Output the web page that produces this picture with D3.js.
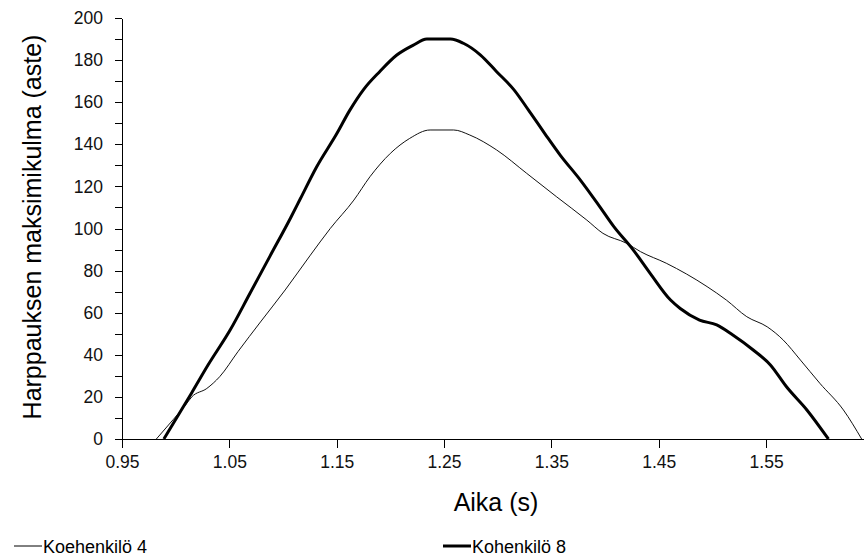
<!DOCTYPE html>
<html>
<head>
    <title>Harppauksen maksimikulma</title>
    <script src="https://cdnjs.cloudflare.com/ajax/libs/d3/7.8.5/d3.min.js"></script>
    <style>
        body {
            margin: 0;
            background: white;
            font-family: "Liberation Sans", Arial, sans-serif;
        }
        .axis path, .axis line {
            stroke: black;
            stroke-width: 1px;
            shape-rendering: crispEdges;
        }
        .axis text {
            font-family: "Liberation Sans", Arial, sans-serif;
            font-size: 17.5px;
            fill: #111;
        }
    </style>
</head>
<body>
    <div id="chart"></div>

    <script>
        // Data
        const xTicks = [0.95, 1.05, 1.15, 1.25, 1.35, 1.45, 1.55];
        const yTicks = d3.range(0, 201, 10);

        // Koehenkilö 4 (thin line)
        const s4Time = [0.982, 0.998, 1.009, 1.015, 1.029, 1.041, 1.058, 1.079, 1.102, 1.125,
            1.144, 1.166, 1.181, 1.200, 1.218, 1.237, 1.259, 1.274, 1.299, 1.327,
            1.355, 1.383, 1.398, 1.420, 1.433, 1.457, 1.495, 1.513, 1.532, 1.551,
            1.566, 1.582, 1.600, 1.622, 1.639];
        const s4Angle = [0, 9.4, 16, 20, 24, 29.6, 41.5, 55.6, 70.8, 87,
            100, 113.5, 124.6, 135.7, 142.8, 146.8, 146.8, 144.4, 137.3, 126.2,
            115, 104, 97.7, 93, 89, 83.5, 72.4, 66, 58.1, 53.3,
            47, 37.5, 26.5, 13.8, 0];

        // Kohenkilö 8 (thick line)
        const s8Time = [0.989, 1.015, 1.030, 1.051, 1.069, 1.088, 1.107, 1.116, 1.131, 1.150,
            1.162, 1.175, 1.190, 1.206, 1.221, 1.234, 1.256, 1.268, 1.284, 1.299,
            1.315, 1.329, 1.344, 1.358, 1.377, 1.395, 1.408, 1.426, 1.442, 1.461,
            1.470, 1.488, 1.504, 1.519, 1.538, 1.554, 1.569, 1.588, 1.608];
        const s8Angle = [0, 22, 35, 52, 69, 87, 105, 114, 129, 145,
            156, 166, 174.5, 182.4, 187, 190, 190, 188, 182.4, 174.5,
            166, 156, 145, 135, 123, 110.4, 101, 90, 78.7, 66,
            62, 56.5, 54.2, 49.4, 42.3, 35.2, 24.8, 13.8, 0];

        const seriesNames = ["Koehenkilö 4", "Kohenkilö 8"];

        const width = 864;
        const height = 557;
        const margin = { top: 18, right: 0, bottom: 118, left: 122 };

        const svg = d3.select("#chart")
            .append("svg")
            .attr("width", width)
            .attr("height", height);

        const x = d3.scaleLinear()
            .domain([0.95, 1.65])
            .range([margin.left, margin.left + 0.7 * 1073.5]);

        const y = d3.scaleLinear()
            .domain([0, 200])
            .range([height - margin.bottom, margin.top]);

        // Axes
        svg.append("g")
            .attr("class", "axis")
            .attr("transform", `translate(0,${height - margin.bottom})`)
            .call(d3.axisBottom(x)
                .tickValues(xTicks)
                .tickFormat(d3.format(".2f"))
                .tickSize(9)
                .tickSizeOuter(0)
                .tickPadding(8))
            .select(".domain")
            .attr("d", `M${margin.left},0.5H${width}`);

        svg.append("g")
            .attr("class", "axis")
            .attr("transform", `translate(${margin.left},0)`)
            .call(d3.axisLeft(y)
                .tickValues(yTicks)
                .tickFormat(d => d % 20 === 0 ? d : "")
                .tickSize(7)
                .tickSizeOuter(0)
                .tickPadding(12));

        // Lines
        const line = d3.line()
            .x(d => x(d[0]))
            .y(d => y(d[1]))
            .curve(d3.curveMonotoneX);

        const s4 = s4Time.map((t, i) => [t, s4Angle[i]]);
        const s8 = s8Time.map((t, i) => [t, s8Angle[i]]);

        svg.append("path")
            .datum(s4)
            .attr("fill", "none")
            .attr("stroke", "#111")
            .attr("stroke-width", 1)
            .attr("d", line);

        svg.append("path")
            .datum(s8)
            .attr("fill", "none")
            .attr("stroke", "black")
            .attr("stroke-width", 3)
            .attr("d", line);

        // Axis titles
        svg.append("text")
            .attr("x", 496)
            .attr("y", 511)
            .attr("text-anchor", "middle")
            .style("font-size", "25px")
            .text("Aika (s)");

        svg.append("text")
            .attr("transform", "translate(41,227) rotate(-90)")
            .attr("text-anchor", "middle")
            .style("font-size", "25px")
            .text("Harppauksen maksimikulma (aste)");

        // Legend
        const legend = svg.append("g");
        const legendX = [14, 443];
        const legendWidth = [1, 3];
        seriesNames.forEach((name, i) => {
            legend.append("line")
                .attr("x1", legendX[i])
                .attr("x2", legendX[i] + 28)
                .attr("y1", 546)
                .attr("y2", 546)
                .attr("stroke", "black")
                .attr("stroke-width", legendWidth[i]);
            legend.append("text")
                .attr("x", legendX[i] + 29)
                .attr("y", 553)
                .style("font-size", "18px")
                .text(name);
        });
    </script>
</body>
</html>
